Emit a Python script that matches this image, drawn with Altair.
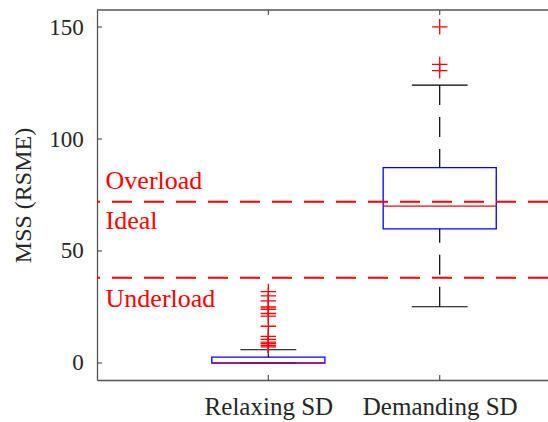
import json

import altair as alt
import pandas as pd

# Box-plot summary for each condition
categories = ["Relaxing SD", "Demanding SD"]
positions = [1, 2]
q1 = [0.0, 59.9]
median = [0.0, 70.0]
q3 = [2.6, 87.2]
whisker_low = [0.0, 25.1]
whisker_high = [5.9, 124.1]

# Points beyond the whiskers
relaxing_outliers = [7.2, 7.9, 8.6, 9.3, 10.5, 11.9, 16.4, 20.9, 22.1, 24.0, 25.0, 27.7, 30.0, 31.9]
demanding_outliers = [130.5, 133.3, 150.1]

# Workload zone boundaries and their names
thresholds = [72, 38]
zone_labels = ["Overload", "Ideal", "Underload"]
zone_label_y = [77.5, 59.8, 25.0]
zone_label_x = [0.05, 0.05, 0.05]

y_ticks = [0, 50, 100, 150]

W, H = 451, 370
FONT = "Liberation Serif"
AXIS_GRAY = "#555555"
TEXT_GRAY = "#262626"
BOX_HALF = 0.33
CAP_HALF = 0.163

X_SCALE = alt.Scale(domain=[0, 2.632], nice=False, zero=False)
Y_SCALE = alt.Scale(domain=[-7.6, 157.6], nice=False, zero=False)

stats = pd.DataFrame({
    "category": categories,
    "pos": positions,
    "q1": q1,
    "median": median,
    "q3": q3,
    "lo": whisker_low,
    "hi": whisker_high,
})

outliers = pd.DataFrame({
    "pos": [1] * len(relaxing_outliers) + [2] * len(demanding_outliers),
    "value": relaxing_outliers + demanding_outliers,
})

label_expr = f"{json.dumps(categories)}[datum.value - 1]"

X_AXIS = alt.Axis(
    values=positions, labelExpr=label_expr, title=None, grid=False,
    ticks=False, labelPadding=34, labelBaseline="alphabetic",
    labelFont=FONT, labelFontSize=25, labelColor=TEXT_GRAY,
    domainColor=AXIS_GRAY, domainWidth=1.3,
)
Y_AXIS = alt.Axis(
    values=y_ticks, title="MSS (RSME)", grid=False,
    ticks=False, labelPadding=13.7,
    labelFont=FONT, labelFontSize=23, labelColor=TEXT_GRAY,
    titleFont=FONT, titleFontSize=24, titleFontWeight="normal", titleColor=TEXT_GRAY,
    titleX=-67, titleY=185, titleBaseline="alphabetic",
    domainColor=AXIS_GRAY, domainWidth=1.3,
)


def xq(field):
    return alt.X(f"{field}:Q", scale=X_SCALE, axis=X_AXIS)


def yq(field):
    return alt.Y(f"{field}:Q", scale=Y_SCALE, axis=Y_AXIS)


base = alt.Chart(stats)

# Dashed whiskers, drawn from the whisker end towards the box
upper_whisker = base.mark_rule(color="black", strokeWidth=1.2, strokeDash=[20, 12]).encode(
    x=xq("pos"), y=yq("hi"), y2="q3:Q",
)
lower_whisker = base.mark_rule(color="black", strokeWidth=1.2, strokeDash=[20, 12]).encode(
    x=xq("pos"), y=yq("lo"), y2="q1:Q",
)

caps_base = base.transform_calculate(
    cap_lo=f"datum.pos - {CAP_HALF}", cap_hi=f"datum.pos + {CAP_HALF}"
)
upper_cap = caps_base.mark_rule(color="black", strokeWidth=1.2).encode(
    x=xq("cap_lo"), x2="cap_hi:Q", y=yq("hi"),
)
lower_cap = caps_base.mark_rule(color="black", strokeWidth=1.2).encode(
    x=xq("cap_lo"), x2="cap_hi:Q", y=yq("lo"),
)

box_base = base.transform_calculate(
    box_lo=f"datum.pos - {BOX_HALF}", box_hi=f"datum.pos + {BOX_HALF}"
)
boxes = box_base.mark_rect(stroke="#0000ff", strokeWidth=1.3, fillOpacity=0).encode(
    x=xq("box_lo"), x2="box_hi:Q", y=yq("q1"), y2="q3:Q",
)
medians = box_base.mark_rule(color="#ff0000", strokeWidth=1.2).encode(
    x=xq("box_lo"), x2="box_hi:Q", y=yq("median"),
)

outlier_marks = alt.Chart(outliers).mark_point(
    shape="M-1,0L1,0M0,-1L0,1", size=240, filled=False,
    stroke="#ff0000", strokeWidth=1.3, opacity=1,
).encode(x=xq("pos"), y=yq("value"))

threshold_lines = alt.Chart(pd.DataFrame({"t": thresholds})).mark_rule(
    color="#ff0000", strokeWidth=2, strokeDash=[20, 12]
).encode(y=yq("t"))

zone_text = alt.Chart(pd.DataFrame({
    "label": zone_labels, "x": zone_label_x, "y": zone_label_y,
})).mark_text(
    align="left", baseline="alphabetic", font=FONT, fontSize=26, color="#ff0000"
).encode(x=xq("x"), y=yq("y"), text="label:N")

# Inward-facing tick marks and the top edge of the frame
y_tick_marks = alt.Chart(pd.DataFrame({"v": y_ticks})).mark_rule(
    color=AXIS_GRAY, strokeWidth=1.2
).encode(x=alt.value(0), x2=alt.value(5), y=yq("v"))
x_tick_bottom = alt.Chart(pd.DataFrame({"p": positions})).mark_rule(
    color=AXIS_GRAY, strokeWidth=1.2
).encode(x=xq("p"), y=alt.value(H), y2=alt.value(H - 5))
x_tick_top = alt.Chart(pd.DataFrame({"p": positions})).mark_rule(
    color=AXIS_GRAY, strokeWidth=1.2
).encode(x=xq("p"), y=alt.value(0), y2=alt.value(5))
top_edge = alt.Chart(pd.DataFrame({"p": [0]})).mark_rule(
    color=AXIS_GRAY, strokeWidth=1.3
).encode(x=alt.value(0), x2=alt.value(W), y=alt.value(0))

chart = alt.layer(
    upper_whisker, lower_whisker, upper_cap, lower_cap,
    boxes, medians, outlier_marks, threshold_lines, zone_text,
    y_tick_marks, x_tick_bottom, x_tick_top, top_edge,
).properties(
    width=W, height=H,
    autosize=alt.AutoSizeParams(type="none"),
    padding={"left": 97, "top": 10, "right": 0, "bottom": 42},
    background="white",
).configure_view(stroke=None)

chart.save("out.html", embed_options={"renderer": "svg", "actions": False})
